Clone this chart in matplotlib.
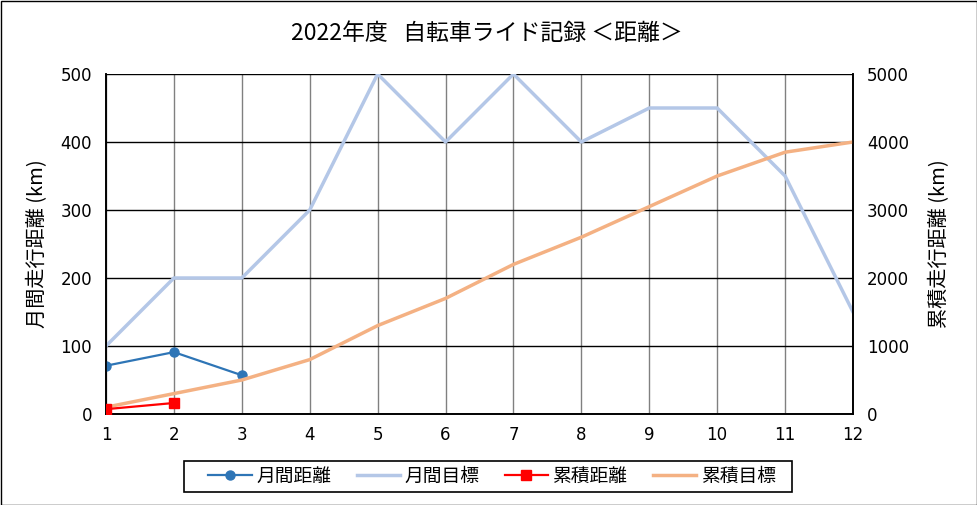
import numpy as np
import matplotlib
matplotlib.use("Agg")
import matplotlib.pyplot as plt
from matplotlib.patches import Rectangle

plt.rcParams['font.family'] = ['Noto Sans CJK JP', 'DejaVu Sans']

## Data
months = [1, 2, 3, 4, 5, 6, 7, 8, 9, 10, 11, 12]
monthlyTarget = [100, 200, 200, 300, 500, 400, 500, 400, 450, 450, 350, 150]
cumTarget = [100, 300, 500, 800, 1300, 1700, 2200, 2600, 3050, 3500, 3850, 4000]
distMonths = [1, 2, 3]
monthlyDist = [71, 91, 57]
cumMonths = [1, 2]
cumDist = [71, 162]

leftTicks = [0, 100, 200, 300, 400, 500]
rightTicks = [0, 1000, 2000, 3000, 4000, 5000]

W, H = 978, 505
fig = plt.figure(figsize=(W/100., H/100.), dpi=100, facecolor="white")
ax1 = fig.add_axes([106/W, 1-414/H, (853-106)/W, (414-74)/H])
ax2 = ax1.twinx()

## grid: vertical gray, horizontal black
for m in months:
  ax1.axvline(x=m, c="#808080", lw=1, zorder=0)
for t in leftTicks:
  ax1.axhline(y=t, c="black", lw=1, zorder=0)

l1, = ax1.plot(distMonths, monthlyDist, c="#2E75B6", lw=1.6, marker="o",
  ms=6.5, label="月間距離", zorder=3)
l2, = ax1.plot(months, monthlyTarget, c="#B4C7E7", lw=2.5,
  label="月間目標", zorder=2)
l3, = ax2.plot(cumMonths, cumDist, c="#FF0000", lw=1.6, marker="s",
  ms=7, label="累積距離", zorder=3)
l4, = ax2.plot(months, cumTarget, c="#F4B183", lw=2.5,
  label="累積目標", zorder=2)

ax1.set_xlim(1, 12)
ax1.set_ylim(0, 500)
ax2.set_ylim(0, 5000)
ax1.set_xticks(months)
ax1.set_yticks(leftTicks)
ax2.set_yticks(rightTicks)
ax1.tick_params(axis="x", length=0, pad=9)
ax1.tick_params(axis="y", length=0, pad=10)
ax2.tick_params(axis="y", length=0, pad=10)
for lab in ax1.get_xticklabels() + ax1.get_yticklabels() + ax2.get_yticklabels():
  lab.set_family("DejaVu Sans")
  lab.set_fontsize(12)

for a in (ax1, ax2):
  for s in a.spines.values():
    s.set_color("black")
    s.set_linewidth(1.2)
  a.spines["top"].set_visible(False)

ax1.set_ylabel("月間走行距離 (km)", fontsize=14.5, va="center")
ax1.yaxis.set_label_coords((38-106)/747., 0.5)
ax2.set_ylabel("累積走行距離 (km)", fontsize=14.5, va="center", rotation=90)
ax2.yaxis.set_label_coords((940-106)/747., 0.5)

fig.text(486.5/W, 1-33/H, "2022年度   自転車ライド記録 ＜距離＞",
  ha="center", va="center", fontsize=16.5)

## legend content without frame, box drawn separately
leg = fig.legend(handles=[l1, l2, l3, l4], ncol=4, loc="center",
  bbox_to_anchor=(492/W, 1-476.5/H), fontsize=13.5, frameon=False,
  handlelength=2.3, handletextpad=0.25, columnspacing=1.35,
  borderpad=0, borderaxespad=0)
fig.patches.append(Rectangle((184/W, 1-492/H), (792-184)/W, 31/H,
  transform=fig.transFigure, fill=False, ec="black", lw=1.2))

fig.patches.append(Rectangle((0.5/W, 0.5/H), 1-1.5/W, 1-1.5/H,
  transform=fig.transFigure, fill=False, ec="black", lw=1))

plt.savefig("out.png", dpi=100, facecolor="white")
